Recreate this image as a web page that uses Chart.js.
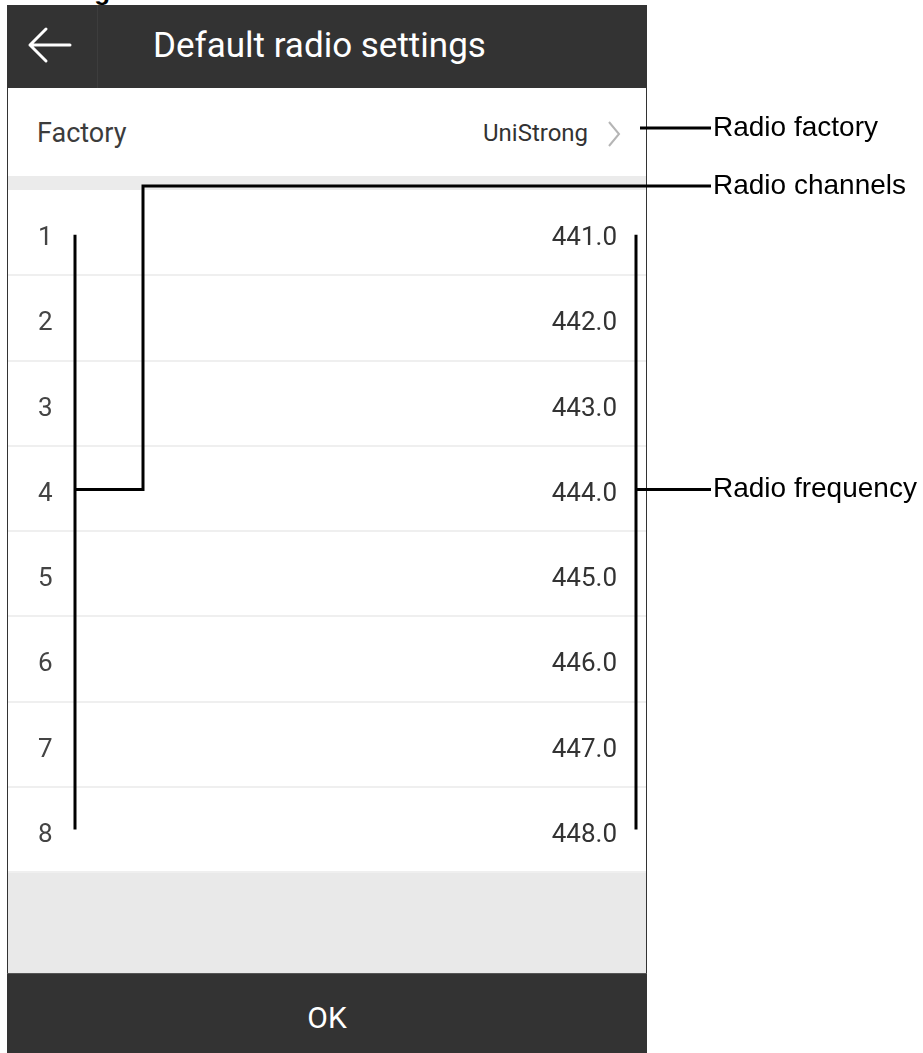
<!DOCTYPE html>
<html>
<head>
<meta charset="utf-8">
<script src="https://cdn.jsdelivr.net/npm/chart.js@4/dist/chart.umd.min.js"></script>
<style>
  body { margin: 0; width: 923px; height: 1053px; background: #fff; position: relative; overflow: hidden; font-family: Roboto, sans-serif; }
  .abs { position: absolute; }
  #cut { left: 0; top: 0; width: 300px; height: 5px; overflow: hidden; }
  #cut span { position: absolute; left: 22px; top: -22px; font: bold 26px Arial, sans-serif; color: #000; line-height: 26px; }
  #frame { left: 7px; top: 5px; width: 638px; height: 1048px; border-left: 1px solid #333; border-right: 1px solid #333; }
  #header { left: 7px; top: 5px; width: 640px; height: 83px; background: #333; }
  #header .sep { position: absolute; left: 90px; top: 0; width: 1px; height: 83px; background: #3d3d3d; }
  #title { left: 153px; top: 23px; color: #fff; font-size: 35px; line-height: 46px; white-space: nowrap; }
  #factory { left: 37px; top: 116px; font-size: 27px; line-height: 34px; color: #3c3c3c; }
  #brand { left: 483px; width: 105px; text-align: right; top: 118px; font-size: 24px; line-height: 30px; color: #333; white-space: nowrap; }
  #band { left: 8px; top: 176px; width: 638px; height: 14px; background: #ebebeb; }
  #bottom { left: 8px; top: 872px; width: 638px; height: 101px; background: #e9e9e9; }
  #footer { left: 7px; top: 973px; width: 640px; height: 80px; background: #333; border-top: 1px solid #555; }
  #ok { left: 7px; width: 640px; top: 999px; text-align: center; color: #fff; font-size: 30px; line-height: 38px; }
  #chart { position: absolute; left: 0; top: 0; pointer-events: none; }
</style>
</head>
<body>
<div id="cut" class="abs"><span>Settings</span></div>
<div id="frame" class="abs"></div>
<div id="header" class="abs"><div class="sep"></div>
  <svg width="60" height="83" style="position:absolute;left:11px;top:0">
    <path d="M12 40 L52 40 M12 40 L28 24 M12 40 L28 56" stroke="#fff" stroke-width="3" fill="none" stroke-linecap="round"/>
  </svg>
</div>
<div id="title" class="abs">Default radio settings</div>
<div id="factory" class="abs">Factory</div>
<div id="brand" class="abs">UniStrong</div>
<svg class="abs" style="left:604px;top:118px" width="20" height="32">
  <path d="M5 4 L15 16 L5 28" stroke="#b5b5b5" stroke-width="2" fill="none"/>
</svg>
<div id="band" class="abs"></div>
<div id="bottom" class="abs"></div>
<div id="footer" class="abs"></div>
<div id="ok" class="abs">OK</div>
<canvas id="chart" width="923" height="1053"></canvas>
<script>
const channels = ['1', '2', '3', '4', '5', '6', '7', '8'];
const frequencies = [441.0, 442.0, 443.0, 444.0, 445.0, 446.0, 447.0, 448.0];
const freqLabels = frequencies.map(f => f.toFixed(1));
const callouts = ['Radio factory', 'Radio channels', 'Radio frequency'];

// leader lines + callout text, anchored on the channel scale
const calloutPlugin = {
    id: 'callouts',
    afterDraw(chart) {
        const ctx = chart.ctx;
        const y = chart.scales.y;
        const top = y.getPixelForTick(0) + 2;
        const bot = y.getPixelForTick(channels.length - 1);
        const mid = y.getPixelForTick(3) + 1;
        const labelX = 713;
        ctx.save();
        ctx.strokeStyle = '#000';
        ctx.lineWidth = 3;
        ctx.beginPath();
        // factory
        ctx.moveTo(640, 128); ctx.lineTo(labelX - 2, 128);
        // channels bracket
        ctx.moveTo(75, top); ctx.lineTo(75, bot);
        ctx.moveTo(75, mid); ctx.lineTo(143, mid); ctx.lineTo(143, 186); ctx.lineTo(labelX - 2, 186);
        // frequency bracket
        ctx.moveTo(636, top); ctx.lineTo(636, bot);
        ctx.moveTo(636, mid); ctx.lineTo(labelX - 2, mid);
        ctx.stroke();
        ctx.fillStyle = '#000';
        ctx.font = '28px Arial, "Liberation Sans", sans-serif';
        ctx.textBaseline = 'middle';
        ctx.fillText(callouts[0], labelX, 128);
        ctx.fillText(callouts[1], labelX, 186);
        ctx.fillText(callouts[2], labelX, mid);
        ctx.restore();
    }
};

const noWidth = scale => { scale.width = 0; };

new Chart(document.getElementById('chart'), {
    type: 'bar',
    data: {
        labels: channels,
        datasets: [{
            data: frequencies,
            backgroundColor: 'rgba(0,0,0,0)',
            borderWidth: 0
        }]
    },
    options: {
        indexAxis: 'y',
        responsive: false,
        animation: false,
        events: [],
        layout: { padding: { left: 8, right: 277, top: 190, bottom: 181 } },
        plugins: { legend: { display: false }, tooltip: { enabled: false } },
        scales: {
            x: { display: false, min: 440, max: 449 },
            y: {
                position: 'left',
                afterFit: noWidth,
                border: { display: false },
                grid: {
                    offset: true,
                    drawTicks: false,
                    lineWidth: 2,
                    color: c => (c.index === 0 || c.index === channels.length) ? 'rgba(0,0,0,0)' : '#efefef'
                },
                ticks: { mirror: true, padding: 30, labelOffset: 6, color: '#444', font: { family: 'Roboto', size: 26 } }
            },
            yFreq: {
                type: 'category',
                labels: freqLabels,
                position: 'right',
                afterFit: noWidth,
                border: { display: false },
                grid: { display: false, drawTicks: false },
                ticks: { mirror: true, padding: -29, labelOffset: 6, color: '#333', font: { family: 'Roboto', size: 26 } }
            }
        }
    },
    plugins: [calloutPlugin]
});
</script>
</body>
</html>
